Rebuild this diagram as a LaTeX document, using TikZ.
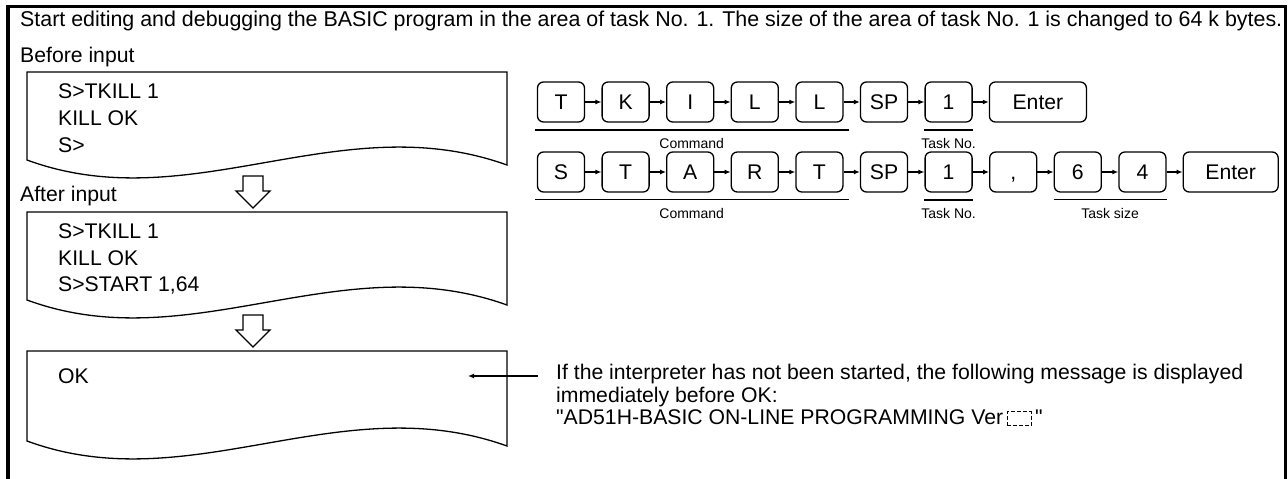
\documentclass[tikz,border=0pt]{standalone}
\usepackage{fontspec}
\setmainfont{Liberation Sans}
\usetikzlibrary{positioning,arrows.meta,calc}

\begin{document}
\begin{tikzpicture}[x=1pt,y=-1pt,>={Latex[length=6pt,width=5pt]},
  every node/.style={font=\fontsize{21.2}{23}\selectfont},
  keybox/.style={draw,line width=1.3pt,rounded corners=6pt,minimum width=47pt,
    minimum height=40pt,inner sep=0pt,text height=15pt,text depth=0pt},
  small/.style={font=\fontsize{14}{16}\selectfont,inner sep=0pt},
  screen/.style={line width=1.3pt}]
  \useasboundingbox (0,0) rectangle (1288,479);
  % outer frame, open at the bottom
  \draw[line width=3.5pt] (8,479) -- (8,6.5) -- (1285.5,6.5) -- (1285.5,479);
  \node[anchor=west,inner sep=0pt,font=\fontsize{21.4}{23}\selectfont] (title) at (20,21) {Start editing and debugging the BASIC program in the area of task No. 1. The size of the area of task No. 1 is changed to 64 k bytes.};
  \node[anchor=west,inner sep=0pt] (before) at (20,57) {Before input};
  \node[anchor=west,inner sep=0pt] (after) at (20,196) {After input};
  % screens
  \foreach \t/\b in {72/160,212/300,351/441}
    \draw[screen] (27,\t) -- (27,\b) .. controls (190,\b+60) and (340,\b-55) .. (507,\b+5) -- (507,\t) -- cycle;
  \node[anchor=west,inner sep=0pt] (tkill) at (58,91) {S>TKILL 1};
  \node[anchor=west,inner sep=0pt] (killok) at (58,118) {KILL OK};
  \node[anchor=west,inner sep=0pt] (prompt) at (58,145) {S>};
  \node[anchor=west,inner sep=0pt] (tkillb) at (58,231) {S>TKILL 1};
  \node[anchor=west,inner sep=0pt] (killokb) at (58,258) {KILL OK};
  \node[anchor=west,inner sep=0pt] (start) at (58,285) {S>START 1,64};
  \node[anchor=west,inner sep=0pt] (ok) at (58,376) {OK};
  % block arrows
  \foreach \y in {176,315}
    \draw[screen,fill=white] (243,\y) -- (263,\y) -- (263,\y+15) -- (270,\y+15) -- (253,\y+32) -- (236,\y+15) -- (243,\y+15) -- cycle;
  % key sequence TKILL 1
  \foreach \k [count=\i from 0] in {T,K,I,L,L,SP,1}
    \node[keybox] (a\i) at (561+64.6*\i,102) {\k};
  \node[keybox,minimum width=97pt,right=16pt of a6] (a7) {Enter};
  \foreach \i [evaluate=\i as \j using int(\i+1)] in {0,...,6}
    \draw[->,line width=1.3pt] (a\i) -- (a\j);
  \draw[line width=2pt] ([xshift=-2pt,yshift=-7pt]a0.south west) -- ([xshift=5pt,yshift=-7pt]a4.south east)
    node[small,midway,below=8pt] {Command};
  \draw[line width=2pt] ([yshift=-7pt]a6.south west) -- ([yshift=-7pt]a6.south east)
    node[small,midway,below=8pt] {Task No.};
  % key sequence START 1,64
  \foreach \k [count=\i from 0] in {S,T,A,R,T,SP,1,{,},6,4}
    \node[keybox] (b\i) at (561+64.6*\i,172) {\k};
  \node[keybox,minimum width=95pt,right=16pt of b9] (b10) {Enter};
  \foreach \i [evaluate=\i as \j using int(\i+1)] in {0,...,9}
    \draw[->,line width=1.3pt] (b\i) -- (b\j);
  \draw[line width=1.2pt] ([xshift=-2pt,yshift=-7pt]b0.south west) -- ([xshift=5pt,yshift=-7pt]b4.south east)
    node[small,midway,below=8pt] {Command};
  \draw[line width=2pt] ([yshift=-7pt]b6.south west) -- ([yshift=-7pt]b6.south east)
    node[small,midway,below=8pt] {Task No.};
  \draw[line width=1.2pt] ([yshift=-7pt]b8.south west) -- ([yshift=-7pt]b9.south east)
    node[small,midway,below=8pt] {Task size};
  % note on the OK line
  \node[anchor=north west,align=left,inner sep=0pt,font=\fontsize{21.2}{22.5}\selectfont] (note) at (556,364)
    {If the interpreter has not been started, the following message is displayed\\
     immediately before OK:\\
     \textquotedbl AD51H-BASIC ON-LINE PROGRAMMING Ver\,\tikz[baseline=0pt,x=1pt,y=1pt]\draw[dashed,dash pattern=on 4pt off 2pt,line width=1pt] (0,-1) rectangle (24,13);\,\textquotedbl};
  \coordinate (okmark) at (468,376);
  \draw[->,line width=1.3pt] ($(note.north west)+(-18,12)$) -- (okmark);
\end{tikzpicture}
\end{document}
